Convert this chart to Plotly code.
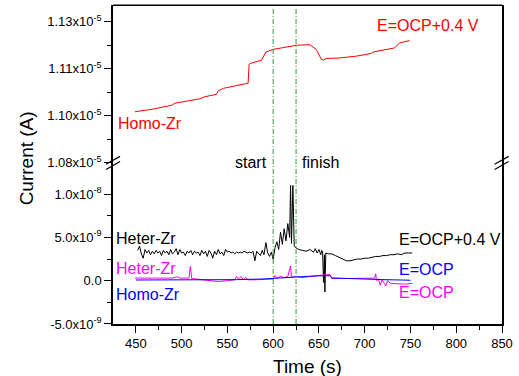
import plotly.graph_objects as go

FONT = "Liberation Sans, Arial, sans-serif"

# ---------------- data ----------------
# Homo-Zr at E=OCP+0.4 V (top panel), current in units of 1e-5 A
red_t = [449, 469, 489, 492.6, 520, 525.4, 538, 540, 546, 556, 572.6, 573.7, 574.5,
         587.2, 592, 600, 614.5, 625.4, 640, 647, 652.7, 655, 658, 672.6, 690.8, 707,
         709, 732.6, 738, 749]
red_i = [1.0974, 1.0983, 1.0996, 1.1003, 1.1018, 1.1025, 1.1033, 1.1045, 1.1054, 1.1061,
         1.1071, 1.1135, 1.1138, 1.1149, 1.1177, 1.1186, 1.1194, 1.1200, 1.1202, 1.1186,
         1.1152, 1.1150, 1.1155, 1.1157, 1.1163, 1.1172, 1.1177, 1.1191, 1.1208, 1.1216]

# Heter-Zr at E=OCP+0.4 V (bottom panel), current in units of 1e-9 A
blk_t = [452, 454, 456, 458, 460, 462, 464, 466, 468, 470, 472, 474, 476, 478, 480,
         482, 484, 486, 488, 490, 492, 494, 496, 498, 500, 502, 504, 506, 508, 510,
         512, 514, 516, 518, 520, 522, 524, 526, 528, 530, 532, 534, 536, 538, 540,
         542, 544, 546, 548, 550, 552, 554, 556, 558, 560, 562, 564, 566, 568, 570,
         572, 574, 576, 578, 580, 582, 584, 586, 588, 590, 592, 594, 596, 598, 600,
         602, 604, 606, 608, 610, 612, 614, 616, 618, 619, 620, 621.5, 623, 625, 628,
         632, 636, 640, 644, 646, 648, 650, 652, 653, 654, 655, 656, 656.5, 657.5, 660,
         664, 668, 672, 676, 680, 684, 688, 692, 696, 700, 704, 708, 712, 716, 720,
         724, 728, 732, 736, 740, 744, 748, 752]
blk_i = [3.5, 4.0, 3.1, 2.6, 3.6, 3.2, 3.5, 3.0, 3.4, 3.1, 3.5, 3.2, 3.4, 2.9, 3.5,
         3.2, 3.4, 3.0, 3.6, 3.1, 3.3, 3.7, 3.0, 3.6, 3.2, 3.3, 2.9, 3.4, 3.2, 3.5,
         3.0, 3.4, 3.2, 3.3, 2.9, 3.5, 3.1, 3.4, 2.8, 3.5, 3.2, 2.6, 3.4, 3.0, 3.6,
         3.1, 3.3, 2.9, 3.6, 3.3, 3.4, 3.2, 3.3, 3.1, 3.3, 3.2, 3.3, 3.2, 3.4, 3.3,
         3.2, 3.3, 3.2, 3.4, 2.3, 3.4, 3.2, 2.9, 3.5, 3.0, 4.4, 3.2, 2.8, 3.3, 2.5,
         3.8, 4.5, 3.6, 5.6, 4.2, 6.0, 4.6, 6.6, 5.0, 11.0, 4.3, 11.0, 4.0, 3.8, 3.6,
         3.5, 3.4, 3.6, 3.3, 3.7, 3.2, 3.6, 3.0, 3.5, 3.3, -0.2, 3.0, -1.3, 3.2, 3.1,
         3.1, 2.9, 2.7, 2.5, 2.3, 2.3, 2.4, 2.5, 2.5, 2.6, 2.6, 2.7, 2.8, 2.8, 2.9,
         2.9, 3.0, 3.0, 3.1, 3.0, 3.2, 3.2, 3.2]

# Homo-Zr at E=OCP, units of 1e-9 A
blu_t = [450, 480, 520, 560, 590, 600, 610, 620, 630, 640, 650, 660, 662, 664, 680, 700, 720, 740, 750]
blu_i = [0.08, 0.08, 0.1, 0.12, 0.2, 0.28, 0.35, 0.42, 0.48, 0.52, 0.56, 0.6, 0.58, 0.32, 0.25, 0.2, 0.12, 0.08, 0.05]

# Heter-Zr at E=OCP, units of 1e-9 A
mag_t = [449, 470, 490, 495, 498, 508, 509.5, 511, 520, 530, 540, 550, 558, 560, 562,
         565, 567, 570, 572, 580, 590, 600, 602, 604, 608, 612, 616, 619, 620, 625,
         630, 640, 650, 662, 664, 680, 700, 711, 712, 713, 715, 717, 719, 721, 723,
         725, 728, 735, 745, 752]
mag_i = [0.3, 0.3, 0.3, 0.45, 0.3, 0.3, 1.65, 0.25, 0.15, 0.05, -0.1, 0.0, 0.1, 0.5, 0.2,
         0.5, 0.1, 0.4, 0.1, 0.1, 0.15, 0.2, 0.6, 0.3, 0.5, 0.35, 0.5, 1.7, 0.4, 0.5,
         0.35, 0.5, 0.6, 0.7, 0.25, 0.25, 0.25, 0.3, 0.8, 0.0, 0.2, -0.5, 0.1, -0.3, -0.6,
         0.0, -0.3, -0.35, -0.4, -0.3]

event_times = [600, 625]

x_ticks = [450, 500, 550, 600, 650, 700, 750, 800, 850]
x_minor = [475, 525, 575, 625, 675, 725, 775, 825]

top_ticks = [1.080, 1.096, 1.112, 1.128]
top_text = ["1.08x10<sup>-5</sup>", "1.10x10<sup>-5</sup>", "1.11x10<sup>-5</sup>", "1.13x10<sup>-5</sup>"]
top_minor = [1.088, 1.104, 1.120]

bot_ticks = [-5, 0, 5, 10]
bot_text = ["-5.0x10<sup>-9</sup>", "0.0", "5.0x10<sup>-9</sup>", "1.0x10<sup>-8</sup>"]
bot_minor = [-2.5, 2.5, 7.5]

# ---------------- figure ----------------
fig = go.Figure()
fig.add_trace(go.Scatter(x=red_t, y=red_i, mode="lines", line=dict(color="#ff0000", width=1), xaxis="x", yaxis="y2"))
fig.add_trace(go.Scatter(x=blk_t, y=blk_i, mode="lines", line=dict(color="#000000", width=1), xaxis="x", yaxis="y"))
fig.add_trace(go.Scatter(x=mag_t, y=mag_i, mode="lines", line=dict(color="#ff00ff", width=1), xaxis="x", yaxis="y"))
fig.add_trace(go.Scatter(x=blu_t, y=blu_i, mode="lines", line=dict(color="#0000ff", width=1), xaxis="x", yaxis="y"))

axis_common = dict(showgrid=False, zeroline=False, showline=True, linecolor="black", linewidth=1.5,
                   ticks="outside", ticklen=7, tickwidth=1.3, tickcolor="black", automargin=False)

SPLIT = 0.505
fig.update_layout(
    width=519, height=376,
    margin=dict(l=113, r=17, t=5, b=52, autoexpand=False),
    paper_bgcolor="white", plot_bgcolor="white",
    showlegend=False,
    font=dict(family=FONT, size=13, color="black"),
    xaxis=dict(range=[425, 850], domain=[0, 1], anchor="y", tickmode="array", tickvals=x_ticks,
               minor=dict(tickmode="array", tickvals=x_minor, ticks="outside", ticklen=4, tickwidth=1.3, tickcolor="black"),
               tickfont=dict(size=13), **axis_common),
    # top frame edge of the upper panel
    xaxis2=dict(range=[425, 850], domain=[0, 1], anchor="y2", overlaying="x", side="top",
                showline=True, linecolor="black", linewidth=1.5, ticks="", showticklabels=False,
                showgrid=False, zeroline=False, automargin=False),
    yaxis=dict(domain=[0, SPLIT], range=[-5, 13.6], anchor="x", tickmode="array", tickvals=bot_ticks, ticktext=bot_text,
               minor=dict(tickmode="array", tickvals=bot_minor, ticks="outside", ticklen=4, tickwidth=1.3, tickcolor="black"),
               tickfont=dict(size=13), mirror=True, **axis_common),
    yaxis2=dict(domain=[SPLIT, 1], range=[1.080, 1.1337], anchor="x", tickmode="array", tickvals=top_ticks, ticktext=top_text,
                minor=dict(tickmode="array", tickvals=top_minor, ticks="outside", ticklen=4, tickwidth=1.3, tickcolor="black"),
                tickfont=dict(size=13), mirror=True, **axis_common),
)

shapes = [
    dict(type="line", xref="paper", yref="paper", x0=0, x1=1, y0=0.999, y1=0.999, line=dict(color="black", width=1.5)),
]
for t in event_times:
    shapes.append(dict(type="line", xref="x", yref="paper", x0=t, x1=t, y0=0, y1=0.99,
                       line=dict(color="#2f9a3a", width=1, dash="5px,2px,1px,2px")))
# axis-break marks
dx, dy, off = 0.018, 0.0125, 0.008
for xb in [0, 0.999]:
    for o in [-off, off]:
        shapes.append(dict(type="line", xref="paper", yref="paper",
                           x0=xb - dx, x1=xb + dx, y0=SPLIT + o - dy, y1=SPLIT + o + dy,
                           line=dict(color="black", width=1.2)))
fig.update_layout(shapes=shapes)

def ann(text, x, y, color="black", size=16, xanchor="left", **kw):
    return dict(text=text, x=x, y=y, xref="paper", yref="paper", xanchor=xanchor, yanchor="middle",
                showarrow=False, font=dict(family=FONT, size=size, color=color), **kw)

annotations = [
    ann("E=OCP+0.4 V", 0.674, 0.937, "#ff0000"),
    ann("Homo-Zr", 0.007, 0.627, "#ff0000"),
    ann("start", 0.401, 0.505, xanchor="right"),
    ann("finish", 0.481, 0.505),
    ann("Heter-Zr", 0.002, 0.2665),
    ann("Heter-Zr", 0.002, 0.1746, "#ff00ff"),
    ann("Homo-Zr", 0.002, 0.094, "#0000ff"),
    ann("E=OCP+0.4 V", 0.729, 0.2655),
    ann("E=OCP", 0.729, 0.1714, "#0000ff"),
    ann("E=OCP", 0.729, 0.098, "#ff00ff"),
    ann("Time (s)", 0.5, -0.134, size=19, xanchor="center"),
    ann("Current (A)", -0.223, 0.52, size=19, xanchor="center", textangle=-90),
]
fig.update_layout(annotations=annotations)

fig.write_html("out.html", config={"displayModeBar": False},
               post_script="document.body.style.margin='0';document.body.style.padding='0';"
                           "document.documentElement.style.overflow='hidden';")
